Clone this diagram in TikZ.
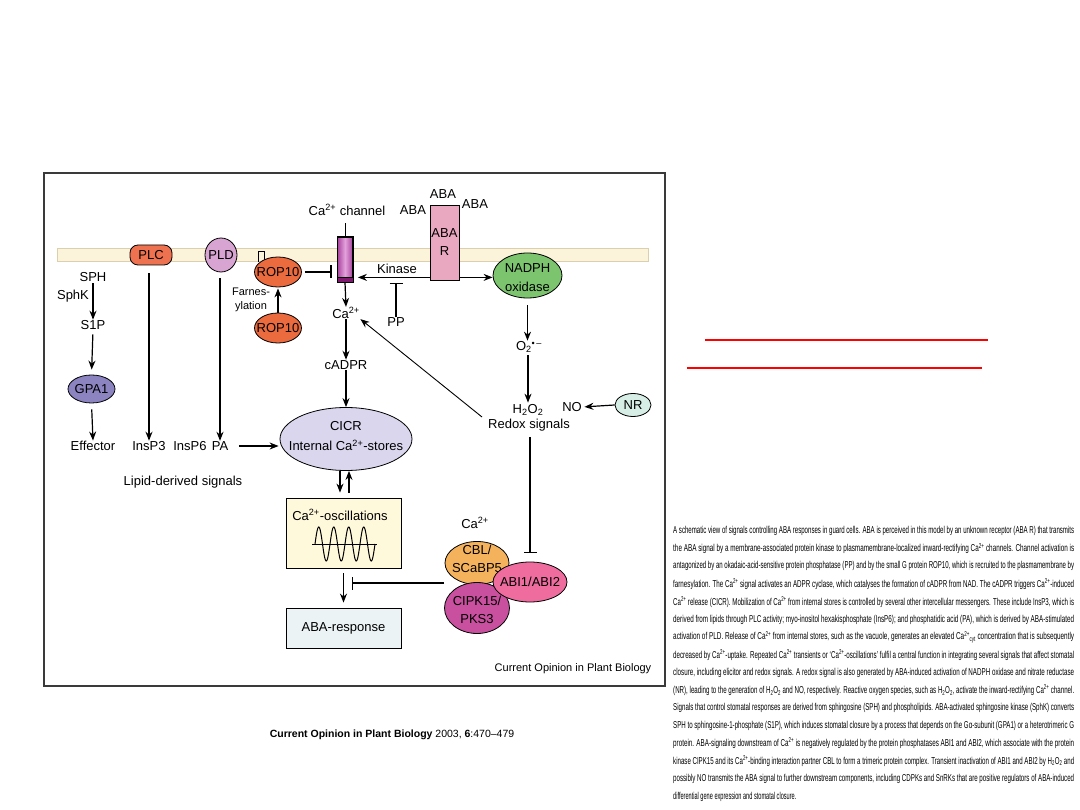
\documentclass[tikz,border=0pt]{standalone}
\usepackage{fontspec}
\setmainfont{Liberation Sans}
\usepackage{graphicx}
\usetikzlibrary{arrows.meta,shapes.geometric,calc}
\definecolor{framegray}{HTML}{3A3A3A}
\definecolor{membr}{HTML}{FCF3DB}
\definecolor{membrline}{HTML}{DCCFAE}
\definecolor{plcc}{HTML}{EE7250}
\definecolor{ropc}{HTML}{EB6A3E}
\definecolor{pldc}{HTML}{D8A4D2}
\definecolor{chanside}{HTML}{A8449E}
\definecolor{chanmid}{HTML}{E4A2DC}
\definecolor{chandark}{HTML}{7E1A6E}
\definecolor{abarc}{HTML}{EAA8C0}
\definecolor{nadphc}{HTML}{7CC46E}
\definecolor{nrc}{HTML}{D6EEE6}
\definecolor{gpac}{HTML}{8C84C0}
\definecolor{cicrc}{HTML}{DAD6EE}
\definecolor{oscc}{HTML}{FFF9DC}
\definecolor{respc}{HTML}{EBF3F5}
\definecolor{cblc}{HTML}{F4B25C}
\definecolor{cipkc}{HTML}{C8509E}
\definecolor{abic}{HTML}{EE6C9E}
\definecolor{redl}{HTML}{FF0000}
\newcommand{\casup}{Ca\textsuperscript{2+}}
\newcommand{\hho}{H\textsubscript{2}O\textsubscript{2}}
\newcommand{\capw}{401pt}
\begin{document}
\begin{tikzpicture}[x=1pt,y=-1pt,
  lbl/.style={font=\fontsize{13}{15}\selectfont, inner sep=0.5pt, align=center},
  lbltwo/.style={font=\fontsize{13}{18.5}\selectfont, inner sep=0.5pt, align=center},
  sml/.style={font=\fontsize{11}{14}\selectfont, inner sep=0.5pt, align=center},
  ell/.style={ellipse, draw=black, line width=0.8pt, inner sep=0pt},
  boxn/.style={draw=black, line width=0.8pt, inner sep=0pt},
  arr/.style={line width=1.2pt, -{Stealth[length=9pt,width=7pt]}},
  inh/.style={line width=1.2pt, -{Bar[width=13pt,line width=1.2pt]}},
  capl/.style={anchor=west, inner sep=0pt, font=\fontsize{10}{12}\selectfont}]
\useasboundingbox (0,0) rectangle (1080,810);
\fill[white] (0,0) rectangle (1080,810);

% frame and membrane
\draw[line width=1.8pt, draw=framegray] (44,173) rectangle (665,686);
\draw[fill=membr, draw=membrline, line width=0.8pt] (57,248) rectangle (648,261);

% membrane proteins
\node[boxn, rounded corners=8pt, fill=plcc, minimum width=42pt, minimum height=20pt] (plc) at (151,255) {};
\node[lbl] (plct) at (plc) {PLC};
\node[ell, fill=pldc, minimum width=32pt, minimum height=34pt] (pld) at (221,255) {};
\node[lbl] (pldt) at (pld) {PLD};

\draw[line width=0.8pt] (258,262) -- (258,251) -- (264,251) -- (264,262);
\node[ell, fill=ropc, minimum width=47pt, minimum height=30pt] (rop1) at (278,272) {};
\node[lbl] (rop1t) at (rop1) {ROP10};
\node[ell, fill=ropc, minimum width=47pt, minimum height=30pt] (rop2) at (278,328) {};
\node[lbl] (rop2t) at (rop2) {ROP10};
\node[sml] (farn) at (251,300) {Farnes-\\ylation};

% channel
\node[boxn, left color=chanside, right color=chanside, middle color=chanmid, minimum width=15pt, minimum height=45pt] (chan) at (345,259.5) {};
\fill[chandark] (337.5,277) rectangle (352.5,282);
\draw[line width=0.8pt] (337.5,277) -- (352.5,277);
\draw[line width=0.8pt] (chan.south west) rectangle (chan.north east);
\coordinate (chantop) at (345,223);
\draw[line width=1pt] (chan.north) -- (chantop);
\node[lbl] (chanl) at (347,210) {\casup\ channel};

% ABA receptor
\node[boxn, fill=abarc, minimum width=29pt, minimum height=75pt] (abar) at (444.5,242.5) {};
\node[lbltwo] (abart) at (444.5,242) {ABA\\R};
\node[lbl] (aba1) at (413,210) {ABA};
\node[lbl] (aba2) at (443,194) {ABA};
\node[lbl] (aba3) at (475,204) {ABA};
\node[lbl] (kin) at (397,269) {Kinase};
\node[lbl] (pp) at (396,322) {PP};
\coordinate (ppbar) at (396,283);

\node[ell, fill=nadphc, minimum width=69pt, minimum height=45pt] (nadph) at (527.5,275.5) {};
\node[lbltwo] (nadpht) at (527.5,277.5) {NADPH\\oxidase};

\node[lbl] (ca1) at (346,313) {\casup};
\node[lbl] (cadpr) at (346,365) {cADPR};
\node[lbl] (o2) at (529,347) {O\textsubscript{2}\textsuperscript{\textbullet\,\textendash}};
\node[lbl] (h2o2) at (528,410) {\hho};
\node[lbl] (redox) at (529,425) {Redox signals};
\node[lbl] (no) at (572,407) {NO};
\node[ell, fill=nrc, minimum width=36pt, minimum height=23pt] (nr) at (633,405) {};
\node[lbl] (nrt) at (nr) {NR};

% sphingolipid branch
\node[lbl] (sph) at (93,277) {SPH};
\node[lbl] (sphk) at (73,296) {SphK};
\node[lbl] (s1p) at (93,325) {S1P};
\node[ell, fill=gpac, minimum width=47pt, minimum height=28pt] (gpa) at (91.5,389) {};
\node[lbl] (gpat) at (gpa) {GPA1};
\node[lbl] (eff) at (93,446) {Effector};
\node[lbl] (insp3) at (149,446) {InsP3};
\node[lbl] (insp6) at (190,446) {InsP6};
\node[lbl] (pa) at (220,446) {PA};
\node[lbl] (lipid) at (183,482) {Lipid-derived signals};

% CICR
\node[ell, fill=cicrc, minimum width=132pt, minimum height=63pt] (cicr) at (346,439) {};
\node[font=\fontsize{13}{20}\selectfont, align=center, inner sep=0.5pt] (cicrt) at (346,436) {CICR\\Internal \casup-stores};

% oscillations
\node[boxn, fill=oscc, minimum width=115pt, minimum height=70pt] (osc) at (343.5,533) {};
\node[lbl] (osct) at (340,515) {\casup-oscillations};
\draw[line width=1pt] (312,544) -- (377,544);
\draw[line width=1pt, domain=0:60, samples=160, smooth] plot ({315+\x},{544-17*sin(24*\x)});
\node[boxn, fill=respc, minimum width=115pt, minimum height=40pt] (resp) at (343.5,628) {};
\node[lbl] (respt) at (resp) {ABA-response};

% complex
\node[lbl] (ca2) at (475,523) {\casup};
\node[ell, fill=cblc, minimum width=64pt, minimum height=43pt] (cbl) at (477,563) {};
\node[lbltwo] (cblt) at (477,559) {CBL/\\SCaBP5};
\node[ell, fill=cipkc, minimum width=65pt, minimum height=51pt] (cipk) at (477,608) {};
\node[lbltwo] (cipkt) at (477,610) {CIPK15/\\PKS3};
\node[ell, fill=abic, minimum width=74pt, minimum height=40pt] (abi) at (530,582) {};
\node[lbl] (abit) at (abi) {ABI1/ABI2};
\coordinate (abibar) at (530,553);
\coordinate (cbar) at (352,583);
\coordinate (rdx) at (482,417);

\node[font=\fontsize{11}{13}\selectfont, inner sep=0.5pt] (cop) at (573,669) {Current Opinion in Plant Biology};

% connectors
\draw[arr, shorten <=1pt] (sph.south) -- (s1p.north);
\draw[arr, shorten <=4pt, shorten >=5pt] (s1p.south) -- (gpa.north);
\draw[arr, shorten <=6pt] (gpa.south) -- (eff.north);
\draw[arr, shorten <=8pt] (plc.south -| insp3.north) -- (insp3.north);
\draw[arr, shorten <=6pt] (pld.south -| pa.north) -- (pa.north);
\draw[arr, shorten <=10pt, shorten >=1pt] (pa.east) -- (pa.east -| cicr.west);
\draw[arr, shorten >=1pt] (rop2.north) -- (rop1.south);
\draw[inh, shorten <=3pt, shorten >=5.5pt] (rop1.east) -- (rop1.east -| chan.west);
\draw[arr] (chan.south) -- (ca1.north);
\draw[arr, shorten >=5pt] ([yshift=3pt]abar.south west) -- ([yshift=3pt]abar.south west -| chan.east);
\draw[inh] (pp.north) -- (ppbar);
\draw[arr] ([yshift=3pt]abar.south east) -- ([yshift=3pt]abar.south east -| nadph.west);
\draw[arr, shorten <=7pt] (nadph.south) -- (o2.north -| nadph.south);
\draw[arr, shorten <=2pt, shorten >=1pt] (o2.south -| h2o2.north) -- (h2o2.north);
\draw[arr, shorten >=2pt] (nr.west) -- (no.east);
\draw[line width=0.9pt, -{Stealth[length=9pt,width=7pt]}] (rdx) -- (ca1.south east);
\draw[arr] (ca1.south) -- (cadpr.north);
\draw[arr] (cadpr.south) -- (cicr.north);
\draw[inh, shorten <=5pt] (redox.south -| abibar) -- (abibar);
\draw[arr, shorten >=5pt] ([xshift=-6pt]cicr.south) -- ([xshift=-6pt]cicr.south |- osc.north);
\draw[arr, shorten <=5pt] ([xshift=3pt]cicr.south |- osc.north) -- ([xshift=3pt]cicr.south);
\draw[arr, shorten <=5pt, shorten >=5pt] (osc.south) -- (resp.north);
\draw[inh] ([yshift=25pt]cipk.west) -- (cbar);

% caption under figure
\node[font=\fontsize{10.5}{12}\selectfont, inner sep=0pt] (cit) at (392,735) {\textbf{Current Opinion in Plant Biology} 2003, \textbf{6}:470--479};

% red lines
\coordinate (r1a) at (705,340); \coordinate (r1b) at (988,340);
\coordinate (r2a) at (687,368); \coordinate (r2b) at (982,368);
\draw[redl, line width=2.5pt] (r1a) -- (r1b);
\draw[redl, line width=1.2pt] (r2a) -- (r2b);

% legend paragraph
\node[capl] (cap1) at (673,531.0) {\resizebox{\capw}{\height}{A schematic view of signals controlling ABA responses in guard cells. ABA is perceived in this model by an unknown receptor (ABA R) that transmits}};
\node[capl] (cap2) at (673,548.7) {\resizebox{\capw}{\height}{the ABA signal by a membrane-associated protein kinase to plasmamembrane-localized inward-rectifying \casup\ channels. Channel activation is}};
\node[capl] (cap3) at (673,566.4) {\resizebox{\capw}{\height}{antagonized by an okadaic-acid-sensitive protein phosphatase (PP) and by the small G protein ROP10, which is recruited to the plasmamembrane by}};
\node[capl] (cap4) at (673,584.1) {\resizebox{\capw}{\height}{farnesylation. The \casup\ signal activates an ADPR cyclase, which catalyses the formation of cADPR from NAD. The cADPR triggers \casup-induced}};
\node[capl] (cap5) at (673,601.8) {\resizebox{\capw}{\height}{\casup\ release (CICR). Mobilization of \casup\ from internal stores is controlled by several other intercellular messengers. These include InsP3, which is}};
\node[capl] (cap6) at (673,619.5) {\resizebox{\capw}{\height}{derived from lipids through PLC activity; myo-inositol hexakisphosphate (InsP6); and phosphatidic acid (PA), which is derived by ABA-stimulated}};
\node[capl] (cap7) at (673,637.2) {\resizebox{\capw}{\height}{activation of PLD. Release of \casup\ from internal stores, such as the vacuole, generates an elevated \casup\textsubscript{cyt} concentration that is subsequently}};
\node[capl] (cap8) at (673,654.9) {\resizebox{\capw}{\height}{decreased by \casup-uptake. Repeated \casup\ transients or `\casup-oscillations' fulfil a central function in integrating several signals that affect stomatal}};
\node[capl] (cap9) at (673,672.6) {\resizebox{\capw}{\height}{closure, including elicitor and redox signals. A redox signal is also generated by ABA-induced activation of NADPH oxidase and nitrate reductase}};
\node[capl] (cap10) at (673,690.3) {\resizebox{\capw}{\height}{(NR), leading to the generation of \hho\ and NO, respectively. Reactive oxygen species, such as \hho, activate the inward-rectifying \casup\ channel.}};
\node[capl] (cap11) at (673,708.0) {\resizebox{\capw}{\height}{Signals that control stomatal responses are derived from sphingosine (SPH) and phospholipids. ABA-activated sphingosine kinase (SphK) converts}};
\node[capl] (cap12) at (673,725.7) {\resizebox{\capw}{\height}{SPH to sphingosine-1-phosphate (S1P), which induces stomatal closure by a process that depends on the Gα-subunit (GPA1) or a heterotrimeric G}};
\node[capl] (cap13) at (673,743.4) {\resizebox{\capw}{\height}{protein. ABA-signaling downstream of \casup\ is negatively regulated by the protein phosphatases ABI1 and ABI2, which associate with the protein}};
\node[capl] (cap14) at (673,761.1) {\resizebox{\capw}{\height}{kinase CIPK15 and its \casup-binding interaction partner CBL to form a trimeric protein complex. Transient inactivation of ABI1 and ABI2 by \hho\ and}};
\node[capl] (cap15) at (673,778.8) {\resizebox{\capw}{\height}{possibly NO transmits the ABA signal to further downstream components, including CDPKs and SnRKs that are positive regulators of ABA-induced}};
\node[capl] (cap16) at (673,796.5) {\scalebox{0.56}[1]{differential gene expression and stomatal closure.}};
\end{tikzpicture}
\end{document}
